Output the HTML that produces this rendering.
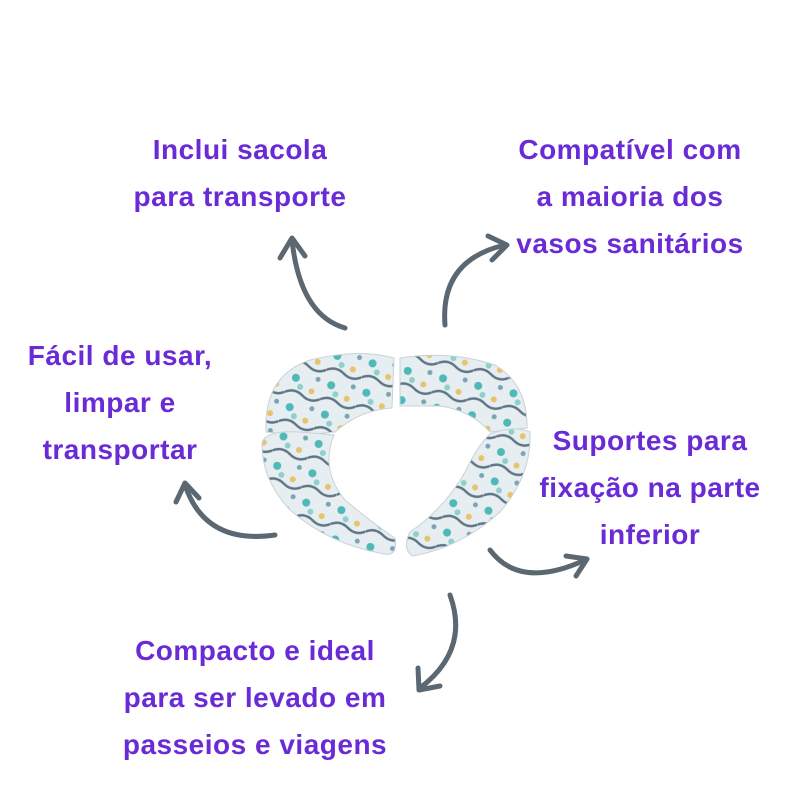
<!DOCTYPE html>
<html><head><meta charset="utf-8"><style>
body{margin:0;width:800px;height:800px;background:#fff;position:relative;overflow:hidden;font-family:"Liberation Sans",sans-serif;}
.t{position:absolute;color:#6a2bd6;font-size:28px;font-weight:bold;text-align:center;line-height:47px;letter-spacing:0.5px;white-space:nowrap}
svg{position:absolute;left:0;top:0}
</style></head><body>
<svg width="800" height="800" viewBox="0 0 800 800">
<defs>
<pattern id="p" width="36" height="30" patternUnits="userSpaceOnUse" patternTransform="rotate(12)">
<rect width="36" height="30" fill="#e6eef1"/>
<circle cx="8" cy="8" r="4" fill="#4fb8b8"/>
<circle cx="26" cy="18" r="3" fill="#e8c36a"/>
<path d="M0 24 Q9 18 18 24 T36 24" stroke="#5f7585" stroke-width="2.5" fill="none"/>
<circle cx="30" cy="5" r="2.5" fill="#7aa5b5"/>
<circle cx="14" cy="16" r="3" fill="#8ed0cc"/>
</pattern>
</defs>
<g fill="url(#p)" stroke="#c8d2d8" stroke-width="1">
<path d="M266 425 Q266 375 310 360 Q360 348 394 358 L392 408 Q360 410 335 432 Q300 436 266 432 Z"/>
<path d="M400 358 Q450 350 495 365 Q528 385 527 428 L490 432 Q470 410 440 406 L400 406 Z"/>
<path d="M262 445 Q262 430 300 432 L334 435 Q320 470 345 500 Q375 525 395 538 Q398 556 385 554 Q330 545 290 510 Q262 480 262 445 Z"/>
<path d="M530 432 Q532 475 500 512 Q460 548 412 556 Q402 548 410 532 Q445 508 465 472 Q478 445 490 434 Q515 425 530 432 Z"/>
</g>
<g stroke="#5b6872" stroke-width="5" fill="none" stroke-linecap="round" stroke-linejoin="round">
<path d="M345 328 Q300 315 292 240"/><path d="M280 258 L292 238 L305 256"/>
<path d="M445 325 Q440 260 505 245"/><path d="M488 236 L507 245 L492 260"/>
<path d="M275 535 Q205 545 185 485"/><path d="M176 502 L185 483 L199 498"/>
<path d="M490 550 Q520 590 585 560"/><path d="M566 556 L587 559 L576 576"/>
<path d="M450 595 Q470 650 420 688"/><path d="M418 668 L419 690 L440 686"/>
</g>
</svg>
<div class="t" style="left:100px;top:126px;width:280px">Inclui sacola<br>para transporte</div>
<div class="t" style="left:490px;top:126px;width:280px">Compatível com<br>a maioria dos<br>vasos sanitários</div>
<div class="t" style="left:0px;top:332px;width:240px">Fácil de usar,<br>limpar e<br>transportar</div>
<div class="t" style="left:510px;top:417px;width:280px">Suportes para<br>fixação na parte<br>inferior</div>
<div class="t" style="left:100px;top:627px;width:310px">Compacto e ideal<br>para ser levado em<br>passeios e viagens</div>
</body></html>
